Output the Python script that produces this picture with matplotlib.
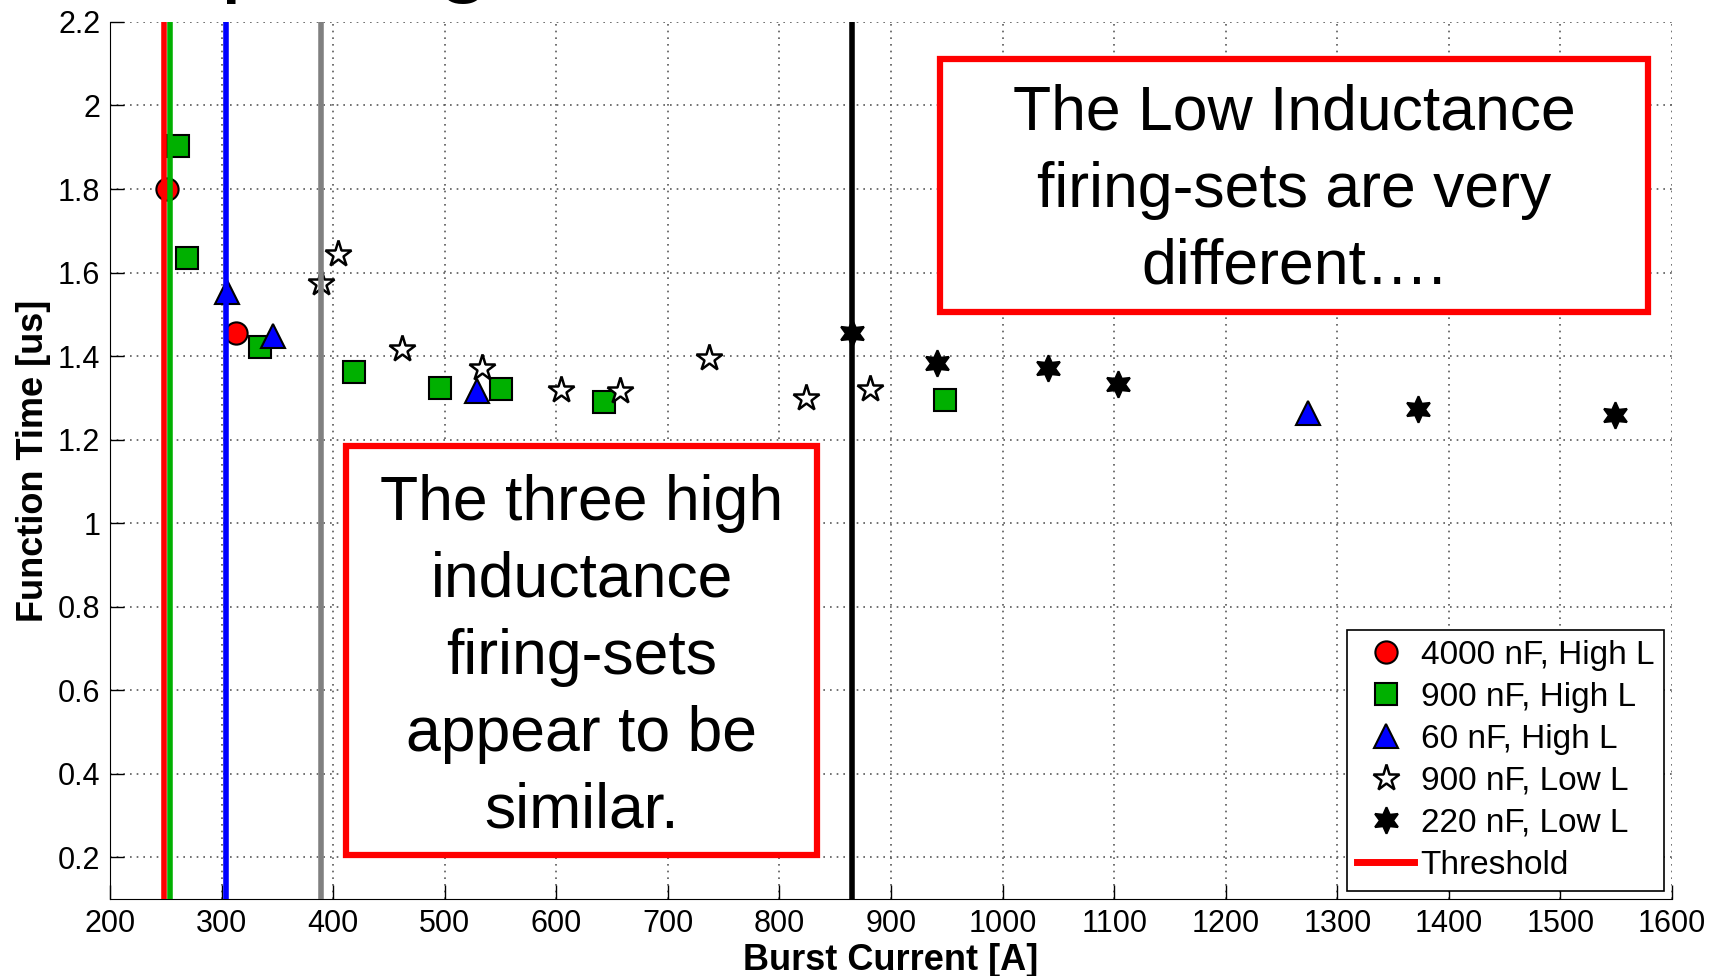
import matplotlib
matplotlib.use("Agg")
import matplotlib.pyplot as plt
from matplotlib.patches import Rectangle
from matplotlib.lines import Line2D

plt.rcParams['font.family'] = ['Liberation Sans', 'DejaVu Sans']

# burst current [A] and function time [us], one pair of lists per firing set
c4000_hi_x = [251, 313]
c4000_hi_y = [1.80, 1.456]
c900_hi_x = [261, 269, 334, 419, 496, 550, 643, 948]
c900_hi_y = [1.903, 1.634, 1.422, 1.363, 1.324, 1.32, 1.29, 1.294]
c60_hi_x = [305, 346, 529, 1274]
c60_hi_y = [1.554, 1.448, 1.316, 1.263]
c900_lo_x = [389, 404, 462, 533, 604, 657, 737, 824, 881]
c900_lo_y = [1.574, 1.644, 1.416, 1.371, 1.319, 1.316, 1.396, 1.30, 1.32]
c220_lo_x = [865, 941, 1041, 1103, 1372, 1549]
c220_lo_y = [1.456, 1.384, 1.372, 1.334, 1.273, 1.259]

# threshold current of each set
thr_x = [248, 254, 304, 389, 865]
thr_colors = ['red', '#00b000', 'blue', '#808080', 'black']

labels = ['4000 nF, High L', '900 nF, High L', '60 nF, High L',
          '900 nF, Low L', '220 nF, Low L', 'Threshold']
xticks = list(range(200, 1700, 100))
yticks = [0.2, 0.4, 0.6, 0.8, 1.0, 1.2, 1.4, 1.6, 1.8, 2.0, 2.2]
ytick_labels = ['0.2', '0.4', '0.6', '0.8', '1', '1.2', '1.4', '1.6', '1.8', '2', '2.2']

fig = plt.figure(figsize=(17.19, 9.76), dpi=100)
ax = fig.add_axes([0.064, 0.0789, 0.9087, 0.8986])

h1, = ax.plot(c4000_hi_x, c4000_hi_y, ls='none', marker='o', ms=16, mfc='red', mec='black', mew=1.5, label=labels[0], zorder=3)
h2, = ax.plot(c900_hi_x, c900_hi_y, ls='none', marker='s', ms=16, mfc='#00b000', mec='black', mew=1.5, label=labels[1], zorder=3)
h3, = ax.plot(c60_hi_x, c60_hi_y, ls='none', marker='^', ms=17, mfc='blue', mec='black', mew=1.5, label=labels[2], zorder=3)
h4, = ax.plot(c900_lo_x, c900_lo_y, ls='none', marker='*', ms=20, mfc='white', mec='black', mew=1.8, label=labels[3], zorder=3)
h5, = ax.plot(c220_lo_x, c220_lo_y, ls='none', marker=(6, 1, 0), ms=19, mfc='black', mec='black', mew=1.5, label=labels[4], zorder=3)

# threshold lines sit on top of the markers
for x, c in zip(thr_x, thr_colors):
    ax.axvline(x, color=c, lw=4, zorder=4)
h6 = Line2D([], [], color='red', lw=5)

ax.set_xlim(200, 1600)
ax.set_ylim(0.1, 2.2)
ax.set_xticks(xticks)
ax.set_yticks(yticks)
ax.set_yticklabels(ytick_labels)
ax.tick_params(direction='in', length=10, width=1, labelsize=22, pad=7)
ax.grid(True, linestyle=(0, (1, 3)), color='0.35', linewidth=1.2)
ax.spines['top'].set_visible(False)
ax.spines['right'].set_visible(False)
ax.set_xlabel('Burst Current [A]', fontsize=26, fontweight='bold', labelpad=3)
ax.set_ylabel('Function Time [us]', fontsize=26, fontweight='bold', labelpad=5)

leg = ax.legend([h1, h2, h3, h4, h5, h6], labels, loc='lower right', fontsize=24,
                fancybox=False, edgecolor='black', framealpha=1, numpoints=1,
                borderaxespad=0.24, handlelength=1.7, handletextpad=0.2,
                labelspacing=0.33, borderpad=0.3)
leg.get_frame().set_linewidth(1.2)
leg.set_zorder(6)

# red call-out boxes
ax.add_patch(Rectangle((0.1511, 0.0502), 0.3015, 0.4663, transform=ax.transAxes,
                       facecolor='white', edgecolor='red', lw=4.5, zorder=5))
ax.text(0.3019, 0.2755, 'The three high\ninductance\nfiring-sets\nappear to be\nsimilar.',
        transform=ax.transAxes, ha='center', va='center', fontsize=45, linespacing=1.39, zorder=6)
ax.add_patch(Rectangle((0.5314, 0.6693), 0.4532, 0.2885, transform=ax.transAxes,
                       facecolor='white', edgecolor='red', lw=4.5, zorder=5))
ax.text(0.758, 0.808, 'The Low Inductance\nfiring-sets are very\ndifferent….',
        transform=ax.transAxes, ha='center', va='center', fontsize=45, linespacing=1.39, zorder=6)

# slide title, cut off by the top edge as in the slide
fig.text(15 / 1719, 1 + 16 / 976, 'Comparing', fontsize=70, ha='left', va='baseline')

fig.savefig('out.png', dpi=100)
